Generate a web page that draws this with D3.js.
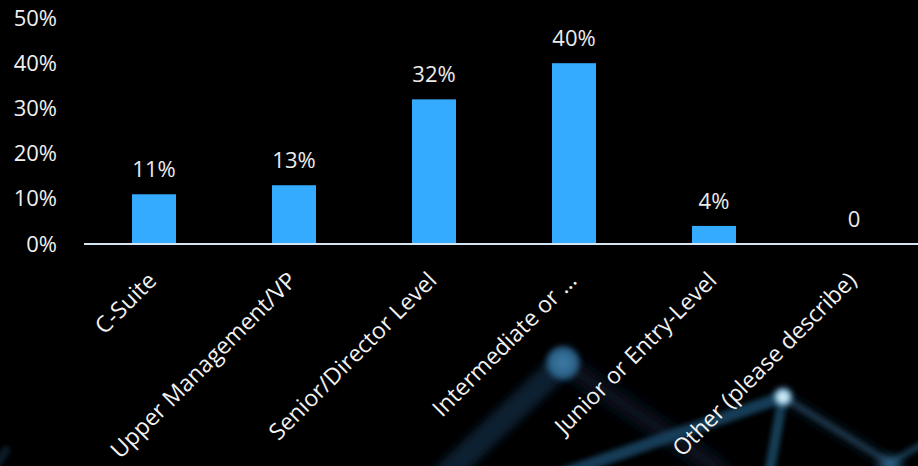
<!DOCTYPE html>
<html>
<head>
<meta charset="utf-8">
<script src="https://cdn.jsdelivr.net/npm/d3@7/dist/d3.min.js"></script>
<style>
  html, body { margin: 0; padding: 0; background: #000; }
  svg { display: block; font-family: "Open Sans", "Noto Sans", sans-serif; }
</style>
</head>
<body>
<svg id="chart" width="918" height="466"></svg>
<script>
// Job level of respondents (share of answers, %)
const categories = [
  "C-Suite",
  "Upper Management/VP",
  "Senior/Director Level",
  "Intermediate or ...",
  "Junior or Entry-Level",
  "Other (please describe)"
];
const values = [11, 13, 32, 40, 4, 0];
const valueLabels = ["11%", "13%", "32%", "40%", "4%", "0"];
const yTicks = [0, 10, 20, 30, 40, 50];
const yTickLabels = ["0%", "10%", "20%", "30%", "40%", "50%"];

const W = 918, H = 466;
const svg = d3.select("#chart");

// --- decorative network backdrop (glowing nodes and links) ---
const defs = svg.append("defs");
function blur(id, sd) {
  defs.append("filter").attr("id", id)
    .attr("x", "-60%").attr("y", "-60%").attr("width", "220%").attr("height", "220%")
    .append("feGaussianBlur").attr("stdDeviation", sd);
}
blur("soft", 2.5);
blur("softer", 5);
blur("softest", 8);
const glowB = defs.append("radialGradient").attr("id", "glowB");
glowB.append("stop").attr("offset", "0%").attr("stop-color", "#e4f6ff").attr("stop-opacity", 1);
glowB.append("stop").attr("offset", "45%").attr("stop-color", "#b6e0f2").attr("stop-opacity", 0.95);
glowB.append("stop").attr("offset", "70%").attr("stop-color", "#3a7ca3").attr("stop-opacity", 0.55);
glowB.append("stop").attr("offset", "100%").attr("stop-color", "#0d2a3d").attr("stop-opacity", 0);
const glowA = defs.append("radialGradient").attr("id", "glowA");
glowA.append("stop").attr("offset", "0%").attr("stop-color", "#3e7ca6").attr("stop-opacity", 1);
glowA.append("stop").attr("offset", "70%").attr("stop-color", "#2e6890").attr("stop-opacity", 0.9);
glowA.append("stop").attr("offset", "100%").attr("stop-color", "#123048").attr("stop-opacity", 0);

const backdrop = svg.append("g").attr("class", "backdrop");
const links = [
  { p: [[563, 363], [440, 480]], w: 24, c: "#0f2436", o: 0.9, f: "softer" },
  { p: [[563, 363], [720, 470]], w: 18, c: "#0b1d2b", o: 0.8, f: "softest" },
  { p: [[783, 397], [545, 480]], w: 12, c: "#1b4460", o: 0.9, f: "soft" },
  { p: [[783, 397], [768, 480]], w: 10, c: "#1b4561", o: 0.9, f: "soft" },
  { p: [[783, 397], [890, 463]], w: 12, c: "#0e2534", o: 0.7, f: "softer" },
  { p: [[783, 397], [890, 463]], w: 2.5, c: "#2d6485", o: 0.9, f: "soft" },
  { p: [[890, 463], [930, 440]], w: 7, c: "#1d4864", o: 0.7, f: "soft" },
  { p: [[-10, 475], [6, 450]], w: 8, c: "#173a52", o: 0.5, f: "soft" }
];
backdrop.selectAll("line.link").data(links).join("line")
  .attr("class", "link")
  .attr("x1", d => d.p[0][0]).attr("y1", d => d.p[0][1])
  .attr("x2", d => d.p[1][0]).attr("y2", d => d.p[1][1])
  .attr("stroke", d => d.c).attr("stroke-width", d => d.w)
  .attr("stroke-opacity", d => d.o).attr("stroke-linecap", "round")
  .attr("filter", d => `url(#${d.f})`);
backdrop.append("circle").attr("cx", 563).attr("cy", 363).attr("r", 20).attr("fill", "url(#glowA)").attr("filter", "url(#soft)");
backdrop.append("circle").attr("cx", 783).attr("cy", 397).attr("r", 13).attr("fill", "url(#glowB)").attr("filter", "url(#soft)");
backdrop.append("circle").attr("cx", 890).attr("cy", 468).attr("r", 15).attr("fill", "url(#glowA)").attr("opacity", 0.7).attr("filter", "url(#softer)");

// --- scales ---
const x = d3.scaleBand()
  .domain(categories)
  .range([84, 924])
  .paddingInner(0.6857)
  .paddingOuter(0.3429);
const y = d3.scaleLinear().domain([0, 50]).range([244, 18]);

// --- y axis labels (no axis line) ---
const yAxis = d3.axisLeft(y)
  .tickValues(yTicks)
  .tickFormat((d, i) => yTickLabels[i])
  .tickSize(0)
  .tickPadding(0);
const yg = svg.append("g").attr("transform", "translate(57,0)").call(yAxis);
yg.select(".domain").remove();
yg.selectAll("text")
  .attr("fill", "#f0f0f0")
  .attr("font-size", 22)
  .attr("font-family", "'Open Sans', sans-serif");

// --- bars ---
svg.append("g").selectAll("rect").data(values).join("rect")
  .attr("x", (d, i) => x(categories[i]))
  .attr("y", d => y(d))
  .attr("width", x.bandwidth())
  .attr("height", d => y(0) - y(d))
  .attr("fill", "#35abff");

// --- baseline ---
svg.append("line")
  .attr("x1", 84).attr("x2", W)
  .attr("y1", y(0)).attr("y2", y(0))
  .attr("stroke", "#d4e6f2").attr("stroke-width", 2);

// --- value labels ---
svg.append("g").selectAll("text").data(values).join("text")
  .attr("x", (d, i) => x(categories[i]) + x.bandwidth() / 2)
  .attr("y", d => y(d) - 25)
  .attr("dy", "0.35em")
  .attr("text-anchor", "middle")
  .attr("fill", "#ebebeb")
  .attr("font-size", 22)
  .text((d, i) => valueLabels[i]);

// --- rotated category labels ---
svg.append("g").selectAll("text").data(categories).join("text")
  .attr("transform", d => `translate(${x(d) + x.bandwidth() / 2 + 4},${y(0) + 38}) rotate(-45)`)
  .attr("text-anchor", "end")
  .attr("fill", "#f2f2f2")
  .attr("font-size", 23)
  .text(d => d);
</script>
</body>
</html>
